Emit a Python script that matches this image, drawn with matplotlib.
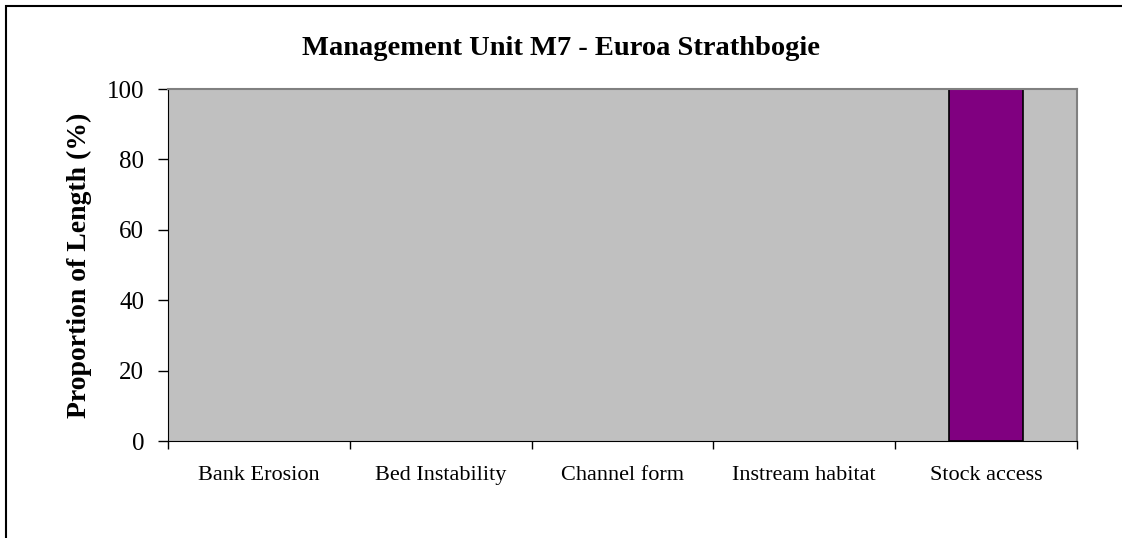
import matplotlib
matplotlib.use('Agg')
import matplotlib.pyplot as plt
from matplotlib.patches import Rectangle

# Data
categories = ['Bank Erosion', 'Bed Instability', 'Channel form', 'Instream habitat', 'Stock access']
values = [0, 0, 0, 0, 100]
yticks = [0, 20, 40, 60, 80, 100]

plt.rcParams['font.family'] = ['Liberation Serif', 'DejaVu Serif']

W, H = 1122, 538
fig = plt.figure(figsize=(W / 100, H / 100), dpi=100)
ax = fig.add_axes([168 / W, 1 - 441 / H, (1077 - 168) / W, (441 - 89) / H])

ax.set_facecolor('#C0C0C0')
x = range(len(categories))
# empty bars get no outline (nothing is drawn for them in the original)
widths = [1.2 if v > 0 else 0 for v in values]
ax.bar(x, values, width=0.41, color='#800080', edgecolor='black', linewidth=widths)

ax.set_xlim(-0.5, len(categories) - 0.5)
ax.set_ylim(0, 100)
ax.set_yticks(yticks)
ax.tick_params(axis='y', labelsize=18, length=7.2, pad=10, direction='out', width=1)

# category labels in the middle, tick marks on the boundaries
ax.set_xticks([i - 0.5 for i in range(len(categories) + 1)])
ax.set_xticklabels([])
ax.set_xticks(list(x), minor=True)
ax.set_xticklabels(categories, minor=True, fontsize=16)
ax.tick_params(axis='x', which='major', length=5.5, width=1)
ax.tick_params(axis='x', which='minor', length=0, pad=18)

for s in ['top', 'right']:
    ax.spines[s].set_color('#808080')
    ax.spines[s].set_linewidth(1.5)
ax.spines['left'].set_color('black')
ax.spines['bottom'].set_color('black')

ax.set_ylabel('Proportion of Length (%)', fontsize=20, fontweight='bold')
ax.yaxis.set_label_coords((92 - 168) / 909, 0.5)
fig.text(0.5, 1 - 55 / H, 'Management Unit M7 - Euroa Strathbogie',
         ha='center', va='baseline', fontsize=20.5, fontweight='bold')

# outer frame (only the left and top edges fall inside the picture)
fig.patches.append(Rectangle((6 / W, -0.1), 1.2, 1 - 6 / H + 0.1, transform=fig.transFigure,
                             fill=False, edgecolor='black', linewidth=1.5))

fig.savefig('out.png', dpi=100)
